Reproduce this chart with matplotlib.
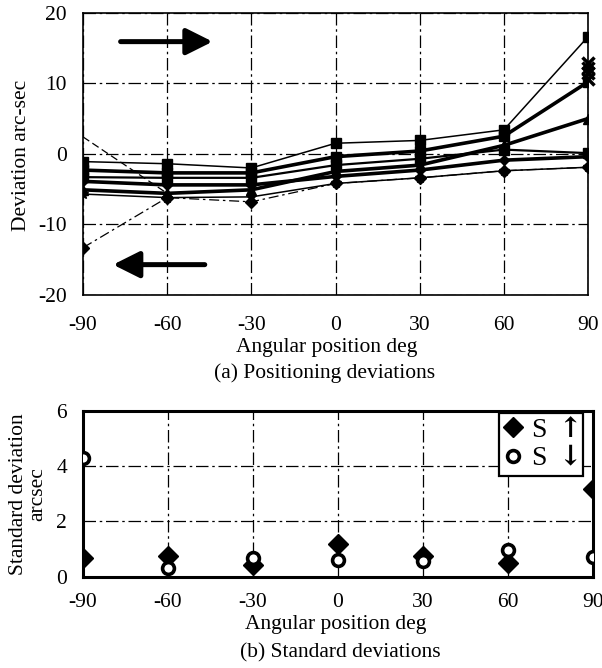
import matplotlib
matplotlib.use('Agg')
import matplotlib.pyplot as plt

plt.rcParams['font.family'] = ['Liberation Serif', 'DejaVu Serif']
plt.rcParams['font.size'] = 15.5
plt.rcParams['axes.unicode_minus'] = False
plt.rcParams['mathtext.fontset'] = 'dejavuserif'

# ---------------- data ----------------
angles = [-90, -60, -30, 0, 30, 60, 90]
xticks = [-90, -60, -30, 0, 30, 60, 90]

# (a) positioning deviations, arc-sec
dev_upper_fwd = [-1.1, -1.4, -2.0, 1.5, 1.9, 3.4, 16.6]
dev_mean_fwd = [-2.3, -2.7, -2.7, -0.4, 0.4, 2.5, 10.2]
dev_bidir = [-5.1, -5.6, -5.1, -2.5, -1.6, 1.2, 5.0]
dev_mid = [-3.3, -3.4, -3.4, -1.6, -0.7, 0.6, 0.1]
dev_mean_bwd = [-3.9, -4.4, -4.4, -3.2, -2.3, -0.9, -0.4]
dev_lower = [-5.7, -6.2, -6.1, -4.2, -3.4, -2.4, -1.9]
dev_env_up = [2.4, -5.6, -5.1, -2.5, -1.6, 1.2, 5.0]
dev_env_low = [-13.3, -6.2, -6.8, -4.2, -3.4, -2.4, -1.9]
dev_fwd_runs_90 = [10.6, 11.4, 12.2, 12.9]

# (b) standard deviations, arcsec
s_up = [0.67, 0.73, 0.43, 1.19, 0.73, 0.51, 3.18]
s_down = [4.28, 0.31, 0.67, 0.61, 0.55, 0.98, 0.71]
legend_labels = [r'S $\mathbf{\uparrow}$', r'S $\mathbf{\downarrow}$']

# ---------------- figure ----------------
fig = plt.figure(figsize=(6.02, 6.68), dpi=100)
ax1 = fig.add_axes([0.1379, 0.5584, 0.8389, 0.4226])
ax2 = fig.add_axes([0.1379, 0.1367, 0.8467, 0.2485])

grid_ls = (0, (10, 3, 2, 3))

# ---- top panel ----
ax1.plot(angles, dev_env_up, color='black', lw=0.9, ls=(0, (6, 3)))
ax1.plot(angles, dev_env_low, color='black', lw=0.9, ls=(0, (8, 3, 2, 3)),
         marker='D', ms=6)
ax1.plot(angles, dev_upper_fwd, color='black', lw=1.1, marker='s', ms=7)
ax1.plot(angles, dev_mean_fwd, color='black', lw=2.6, marker='s', ms=7)
ax1.plot(angles, dev_bidir, color='black', lw=2.6, marker='^', ms=7)
ax1.plot(angles, dev_mid, color='black', lw=1.6, marker='s', ms=7)
ax1.plot(angles, dev_mean_bwd, color='black', lw=2.6, marker='D', ms=5)
ax1.plot(angles, dev_lower, color='black', lw=1.1, marker='*', ms=8)
ax1.plot([angles[-1]] * len(dev_fwd_runs_90), dev_fwd_runs_90, ls='none',
         marker='x', ms=8, mew=2.5, color='black', clip_on=False)

ax1.set_xlim(-90, 90)
ax1.set_ylim(-20, 20)
ax1.set_xticks(xticks)
ax1.set_yticks([-20, -10, 0, 10, 20])
ax1.grid(True, color='black', lw=0.9, ls=grid_ls)
ax1.tick_params(axis='both', length=0)
ax1.tick_params(axis='x', pad=15)
ax1.tick_params(axis='y', pad=11.5)
for sp in ax1.spines.values():
    sp.set_linewidth(1.2)

arrow_kw = dict(arrowstyle='-|>,head_length=0.8,head_width=0.4', lw=3.6,
                color='black', mutation_scale=20, shrinkA=0, shrinkB=0)
ax1.annotate('', xy=(-43.8, 15.9), xytext=(-76.6, 15.9), arrowprops=arrow_kw)
ax1.annotate('', xy=(-79.3, -15.7), xytext=(-46.6, -15.7), arrowprops=arrow_kw)

fig.text(0.036, 0.768, 'Deviation arc-sec', rotation=90, ha='center', va='center')
fig.text(0.543, 0.4805, 'Angular position deg', ha='center', va='center')
fig.text(0.539, 0.4416, '(a) Positioning deviations', ha='center', va='center')

# ---- bottom panel ----
ax2.plot(angles, s_up, ls='none', marker='D', ms=10, color='black',
         label=legend_labels[0], zorder=3)
ax2.plot(angles, s_down, ls='none', marker='o', ms=8.5, mfc='white', mec='black',
         mew=2.6, label=legend_labels[1], zorder=4)
ax2.set_xlim(-90, 90)
ax2.set_ylim(0, 6)
ax2.set_xticks(xticks)
ax2.set_yticks([0, 2, 4, 6])
ax2.grid(True, color='black', lw=0.9, ls=grid_ls)
ax2.tick_params(axis='both', length=0)
ax2.tick_params(axis='x', pad=11.5)
ax2.tick_params(axis='y', pad=11.5)
for sp in ax2.spines.values():
    sp.set_linewidth(2.2)
for lbl in ax2.get_xticklabels() + ax2.get_yticklabels():
    lbl.set_clip_on(False)

leg = ax2.legend(loc='upper right', fontsize=20, frameon=True, fancybox=False,
                 edgecolor='black', framealpha=1,
                 bbox_to_anchor=(0.98, 0.985), borderaxespad=0,
                 handlelength=0.7, handletextpad=0.3, borderpad=0.15,
                 labelspacing=0.12)
leg.get_frame().set_linewidth(1.6)

fig.text(0.047, 0.2605, 'Standard deviation\narcsec', rotation=90, ha='center',
         va='center', linespacing=1.0)
fig.text(0.558, 0.0644, 'Angular position deg', ha='center', va='center')
fig.text(0.566, 0.0225, '(b) Standard deviations', ha='center', va='center')

fig.savefig('out.png', dpi=100)
